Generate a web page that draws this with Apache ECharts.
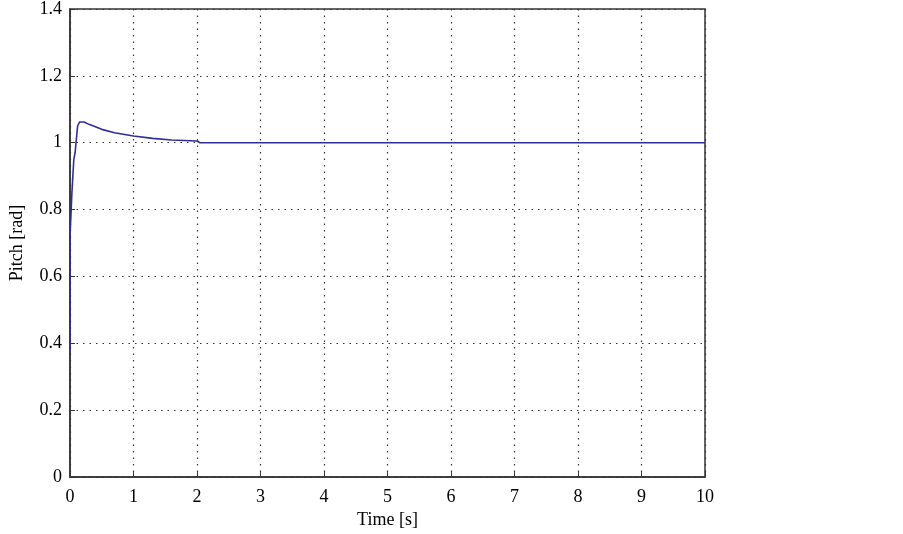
<!DOCTYPE html>
<html>
<head>
<meta charset="utf-8">
<script src="https://cdn.jsdelivr.net/npm/echarts@6/dist/echarts.min.js"></script>
<style>
  html, body { margin: 0; padding: 0; background: #fff; }
  #chart { width: 903px; height: 534px; }
</style>
</head>
<body>
<div id="chart"></div>
<script>
// step response
var timeS = [0, 0, 0.02, 0.03, 0.05, 0.06, 0.08, 0.12, 0.15, 0.22, 0.3, 0.5, 0.7, 1.0, 1.3, 1.6, 2.0, 2.05, 10];
var pitch = [0.38, 0.72, 0.72, 0.85, 0.85, 0.95, 0.97, 1.05, 1.062, 1.062, 1.055, 1.04, 1.03, 1.02, 1.013, 1.008, 1.005, 1.0, 1.0];

var pts = [];
for (var i = 0; i < timeS.length; i++) {
  pts.push([timeS[i], pitch[i]]);
}

var serif = '"Liberation Serif", "DejaVu Serif", serif';
var dots = { color: '#333', width: 1.2, type: [1.5, 5] };

var chart = echarts.init(document.getElementById('chart'));
chart.setOption({
  animation: false,
  backgroundColor: '#fff',
  grid: {
    left: 69, right: 198, top: 9, bottom: 48,
    show: true, borderColor: '#333', borderWidth: 1.5,
    containLabel: false
  },
  xAxis: {
    type: 'value', min: 0, max: 10, interval: 1,
    name: 'Time [s]', nameLocation: 'middle', nameGap: 32,
    nameTextStyle: { fontFamily: serif, fontSize: 18, color: '#000' },
    axisLine: { lineStyle: { color: '#333', width: 1.5 } },
    axisTick: { inside: true, length: 5, lineStyle: { color: '#333' } },
    axisLabel: { fontFamily: serif, fontSize: 18, color: '#000', margin: 11 },
    splitLine: { show: true, lineStyle: dots }
  },
  yAxis: {
    type: 'value', min: 0, max: 1.4, interval: 0.2,
    name: 'Pitch [rad]', nameLocation: 'middle', nameGap: 44,
    nameTextStyle: { fontFamily: serif, fontSize: 18, color: '#000' },
    axisLine: { lineStyle: { color: '#333', width: 1.5 } },
    axisTick: { inside: true, length: 5, lineStyle: { color: '#333' } },
    axisLabel: {
      fontFamily: serif, fontSize: 18, color: '#000', margin: 8,
      formatter: function (v) { return String(+v.toFixed(1)); }
    },
    splitLine: { show: true, lineStyle: dots }
  },
  series: [{
    type: 'line',
    data: pts,
    showSymbol: false,
    lineStyle: { color: '#2e2e96', width: 1.6 },
    clip: true
  }]
});
</script>
</body>
</html>
